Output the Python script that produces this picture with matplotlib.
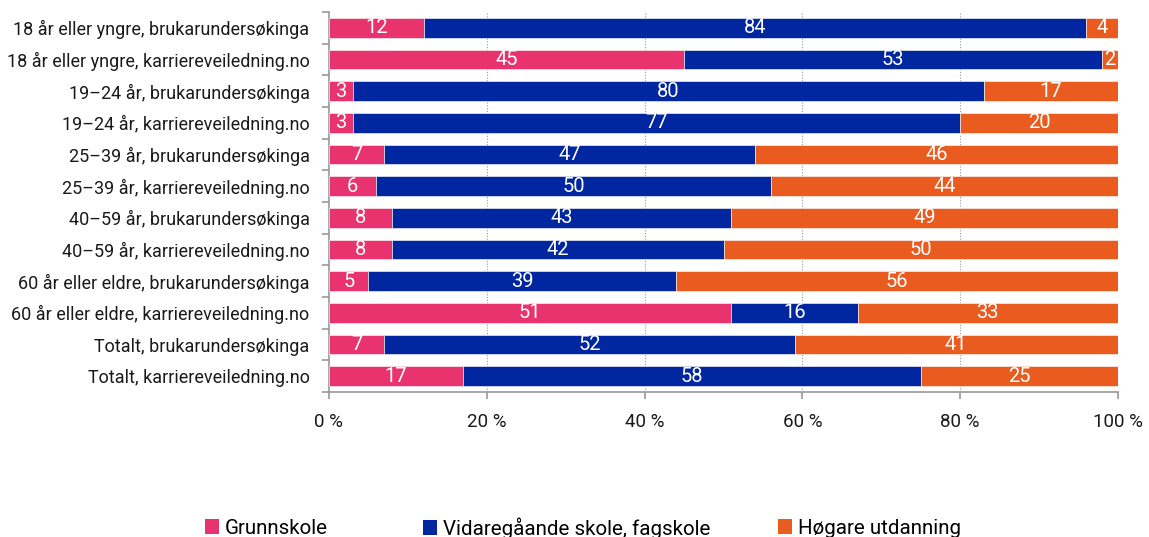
import matplotlib
matplotlib.use("Agg")
import matplotlib.pyplot as plt
from matplotlib.patches import Patch

plt.rcParams['font.family'] = ['Roboto', 'DejaVu Sans']

categories = [
    "18 år eller yngre, brukarundersøkinga",
    "18 år eller yngre, karriereveiledning.no",
    "19–24 år, brukarundersøkinga",
    "19–24 år, karriereveiledning.no",
    "25–39 år, brukarundersøkinga",
    "25–39 år, karriereveiledning.no",
    "40–59 år, brukarundersøkinga",
    "40–59 år, karriereveiledning.no",
    "60 år eller eldre, brukarundersøkinga",
    "60 år eller eldre, karriereveiledning.no",
    "Totalt, brukarundersøkinga",
    "Totalt, karriereveiledning.no",
]
grunnskole = [12, 45, 3, 3, 7, 6, 8, 8, 5, 51, 7, 17]
vidaregaande = [84, 53, 80, 77, 47, 50, 43, 42, 39, 16, 52, 58]
hogare = [4, 2, 17, 20, 46, 44, 49, 50, 56, 33, 41, 25]
series_names = ["Grunnskole", "Vidaregåande skole, fagskole", "Høgare utdanning"]
colors = ["#E8336F", "#0026A0", "#EA5B20"]
xticks = [0, 20, 40, 60, 80, 100]
xtick_labels = ["0 %", "20 %", "40 %", "60 %", "80 %", "100 %"]

W, H = 1149, 537
fig = plt.figure(figsize=(W / 100, H / 100), dpi=100)
ax = fig.add_axes([329 / W, 1 - 392 / H, (1118 - 329) / W, (392 - 12) / H])

y = list(range(len(categories)))
left = [0] * len(categories)
for vals, col in zip([grunnskole, vidaregaande, hogare], colors):
    bars = ax.barh(y, vals, left=left, height=0.62, color=col, edgecolor='white',
                   linewidth=0.4, zorder=3)
    for b, v, l in zip(bars, vals, left):
        ax.text(l + v / 2, b.get_y() + b.get_height() / 2, str(v), ha='center', va='center',
                color='white', fontsize=14.5, zorder=4)
    left = [a + b for a, b in zip(left, vals)]

ax.set_ylim(len(categories) - 0.5, -0.5)
ax.set_xlim(0, 100)
ax.set_yticks(y)
ax.set_yticklabels(categories, fontsize=13, color='#1a1a1a')
ax.tick_params(axis='y', length=0, pad=14)
ax.set_yticks([i + 0.5 for i in range(-1, len(categories))], minor=True)
ax.tick_params(axis='y', which='minor', length=5, color='#999999', width=1.2)

ax.set_xticks(xticks)
ax.set_xticklabels(xtick_labels, fontsize=13.5, color='#1a1a1a')
ax.tick_params(axis='x', length=5, color='#999999', width=1.2, pad=10)

for s in ['top', 'right']:
    ax.spines[s].set_visible(False)
for s in ['left', 'bottom']:
    ax.spines[s].set_color('#999999')
    ax.spines[s].set_linewidth(1.2)

for xv in xticks[1:]:
    ax.axvline(xv, color='#999999', linestyle=(0, (1, 1.5)), linewidth=0.8, zorder=1)

legend_x = [205, 423, 778]
for name, col, lx in zip(series_names, colors, legend_x):
    fig.legend(handles=[Patch(facecolor=col, edgecolor='none')], labels=[name],
               loc='center left', bbox_to_anchor=(lx / W, 1 - 528 / H),
               frameon=False, fontsize=14.8, handlelength=0.7, handleheight=0.7,
               handletextpad=0.25, borderpad=0, borderaxespad=0)

fig.savefig("out.png", dpi=100)
